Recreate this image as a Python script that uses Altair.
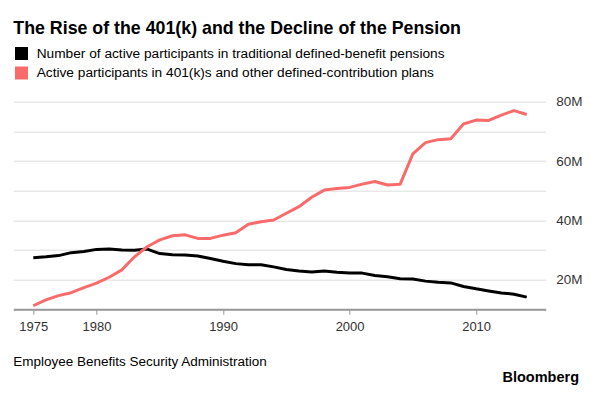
import altair as alt
import pandas as pd

years = list(range(1975, 2015))
db_participants = [27.4, 27.7, 28.1, 29.1, 29.5, 30.2, 30.3, 30.0, 29.9, 30.3,
                   28.8, 28.4, 28.3, 28.0, 27.1, 26.2, 25.4, 25.0, 25.0, 24.3,
                   23.4, 22.9, 22.6, 22.9, 22.5, 22.2, 22.2, 21.4, 21.0, 20.3,
                   20.2, 19.5, 19.1, 18.9, 17.7, 16.9, 16.2, 15.5, 15.1, 14.1]
dc_participants = [11.2, 13.2, 14.6, 15.6, 17.3, 18.8, 20.8, 23.3, 27.7, 31.1,
                   33.4, 34.8, 35.1, 33.9, 33.9, 35.0, 35.8, 38.7, 39.5, 40.1,
                   42.4, 44.6, 47.8, 50.2, 50.7, 51.1, 52.2, 53.1, 51.9, 52.2,
                   62.4, 66.2, 67.2, 67.5, 72.5, 73.8, 73.7, 75.5, 77.0, 75.7]
series_names = [
    "Number of active participants in traditional defined-benefit pensions",
    "Active participants in 401(k)s and other defined-contribution plans",
]
series_colors = ["#000000", "#f96b6b"]
x_ticks = [1975, 1980, 1990, 2000, 2010]
y_ticks = [10, 20, 30, 40, 50, 60, 70, 80]
title_text = "The Rise of the 401(k) and the Decline of the Pension"
source_text = "Employee Benefits Security Administration"
brand_text = "Bloomberg"

df = pd.DataFrame({
    "year": years + years,
    "value": db_participants + dc_participants,
    "series": [series_names[0]] * len(years) + [series_names[1]] * len(years),
})
legend_df = pd.DataFrame({"series": series_names, "row": [0, 1]})

W, H = 532.4, 207.6
FONT = "Liberation Sans"
color_scale = alt.Scale(domain=series_names, range=series_colors)

lines = alt.Chart(df).mark_line(strokeWidth=3, strokeJoin="round").encode(
    x=alt.X("year:Q",
            scale=alt.Scale(domain=[1973.42, 2015.5], nice=False, zero=False),
            axis=alt.Axis(values=x_ticks, format="d", title=None, grid=False,
                          domainColor="#999999", domainWidth=2,
                          tickColor="#999999", tickSize=5, tickWidth=1,
                          labelPadding=6, labelFontSize=13, labelColor="#333333",
                          labelFont=FONT, zindex=1)),
    y=alt.Y("value:Q",
            scale=alt.Scale(domain=[10, 80], nice=False, zero=False),
            axis=alt.Axis(orient="right", values=y_ticks,
                          labelExpr="datum.value % 20 == 0 ? datum.value + 'M' : ''",
                          domain=False, ticks=False, grid=True,
                          gridColor="#dddddd", gridWidth=1,
                          labelPadding=10, title=None, labelFontSize=13.5,
                          labelColor="#333333", labelFont=FONT)),
    color=alt.Color("series:N", scale=color_scale, legend=None),
)

legend_y = alt.Y("row:Q", scale=alt.Scale(domain=[0, 1], range=[-48.2, -28.7]),
                 axis=None)

legend_squares = alt.Chart(legend_df).mark_square(
    size=169, opacity=1, filled=True, strokeWidth=0
).encode(
    x=alt.value(8.2), y=legend_y,
    color=alt.Color("series:N", scale=color_scale, legend=None),
)

legend_labels = alt.Chart(legend_df).mark_text(
    align="left", baseline="middle", font=FONT, fontSize=13.7, color="#000000"
).encode(x=alt.value(23.4), y=legend_y, text="series:N")

title_layer = alt.Chart(pd.DataFrame({"t": [title_text]})).mark_text(
    align="left", baseline="alphabetic", font=FONT, fontSize=17.8,
    fontWeight="bold", color="#000000"
).encode(text="t:N", x=alt.value(0), y=alt.value(-68.2))

source_layer = alt.Chart(pd.DataFrame({"t": [source_text]})).mark_text(
    align="left", baseline="middle", font=FONT, fontSize=13.5, color="#000000"
).encode(text="t:N", x=alt.value(0), y=alt.value(260))

brand_layer = alt.Chart(pd.DataFrame({"t": [brand_text]})).mark_text(
    align="right", baseline="middle", font=FONT, fontSize=14.5,
    fontWeight="bold", color="#000000"
).encode(text="t:N", x=alt.value(565.7), y=alt.value(276.3))

chart = alt.layer(
    lines, legend_squares, legend_labels, title_layer, source_layer, brand_layer
).resolve_scale(y="independent").properties(
    width=W, height=H,
    padding={"left": 5.3, "top": 93.7, "right": 40, "bottom": 76},
    autosize=alt.AutoSizeParams(type="none"),
).configure_view(stroke=None)

chart.save("out.html", embed_options={"renderer": "svg", "actions": False})
